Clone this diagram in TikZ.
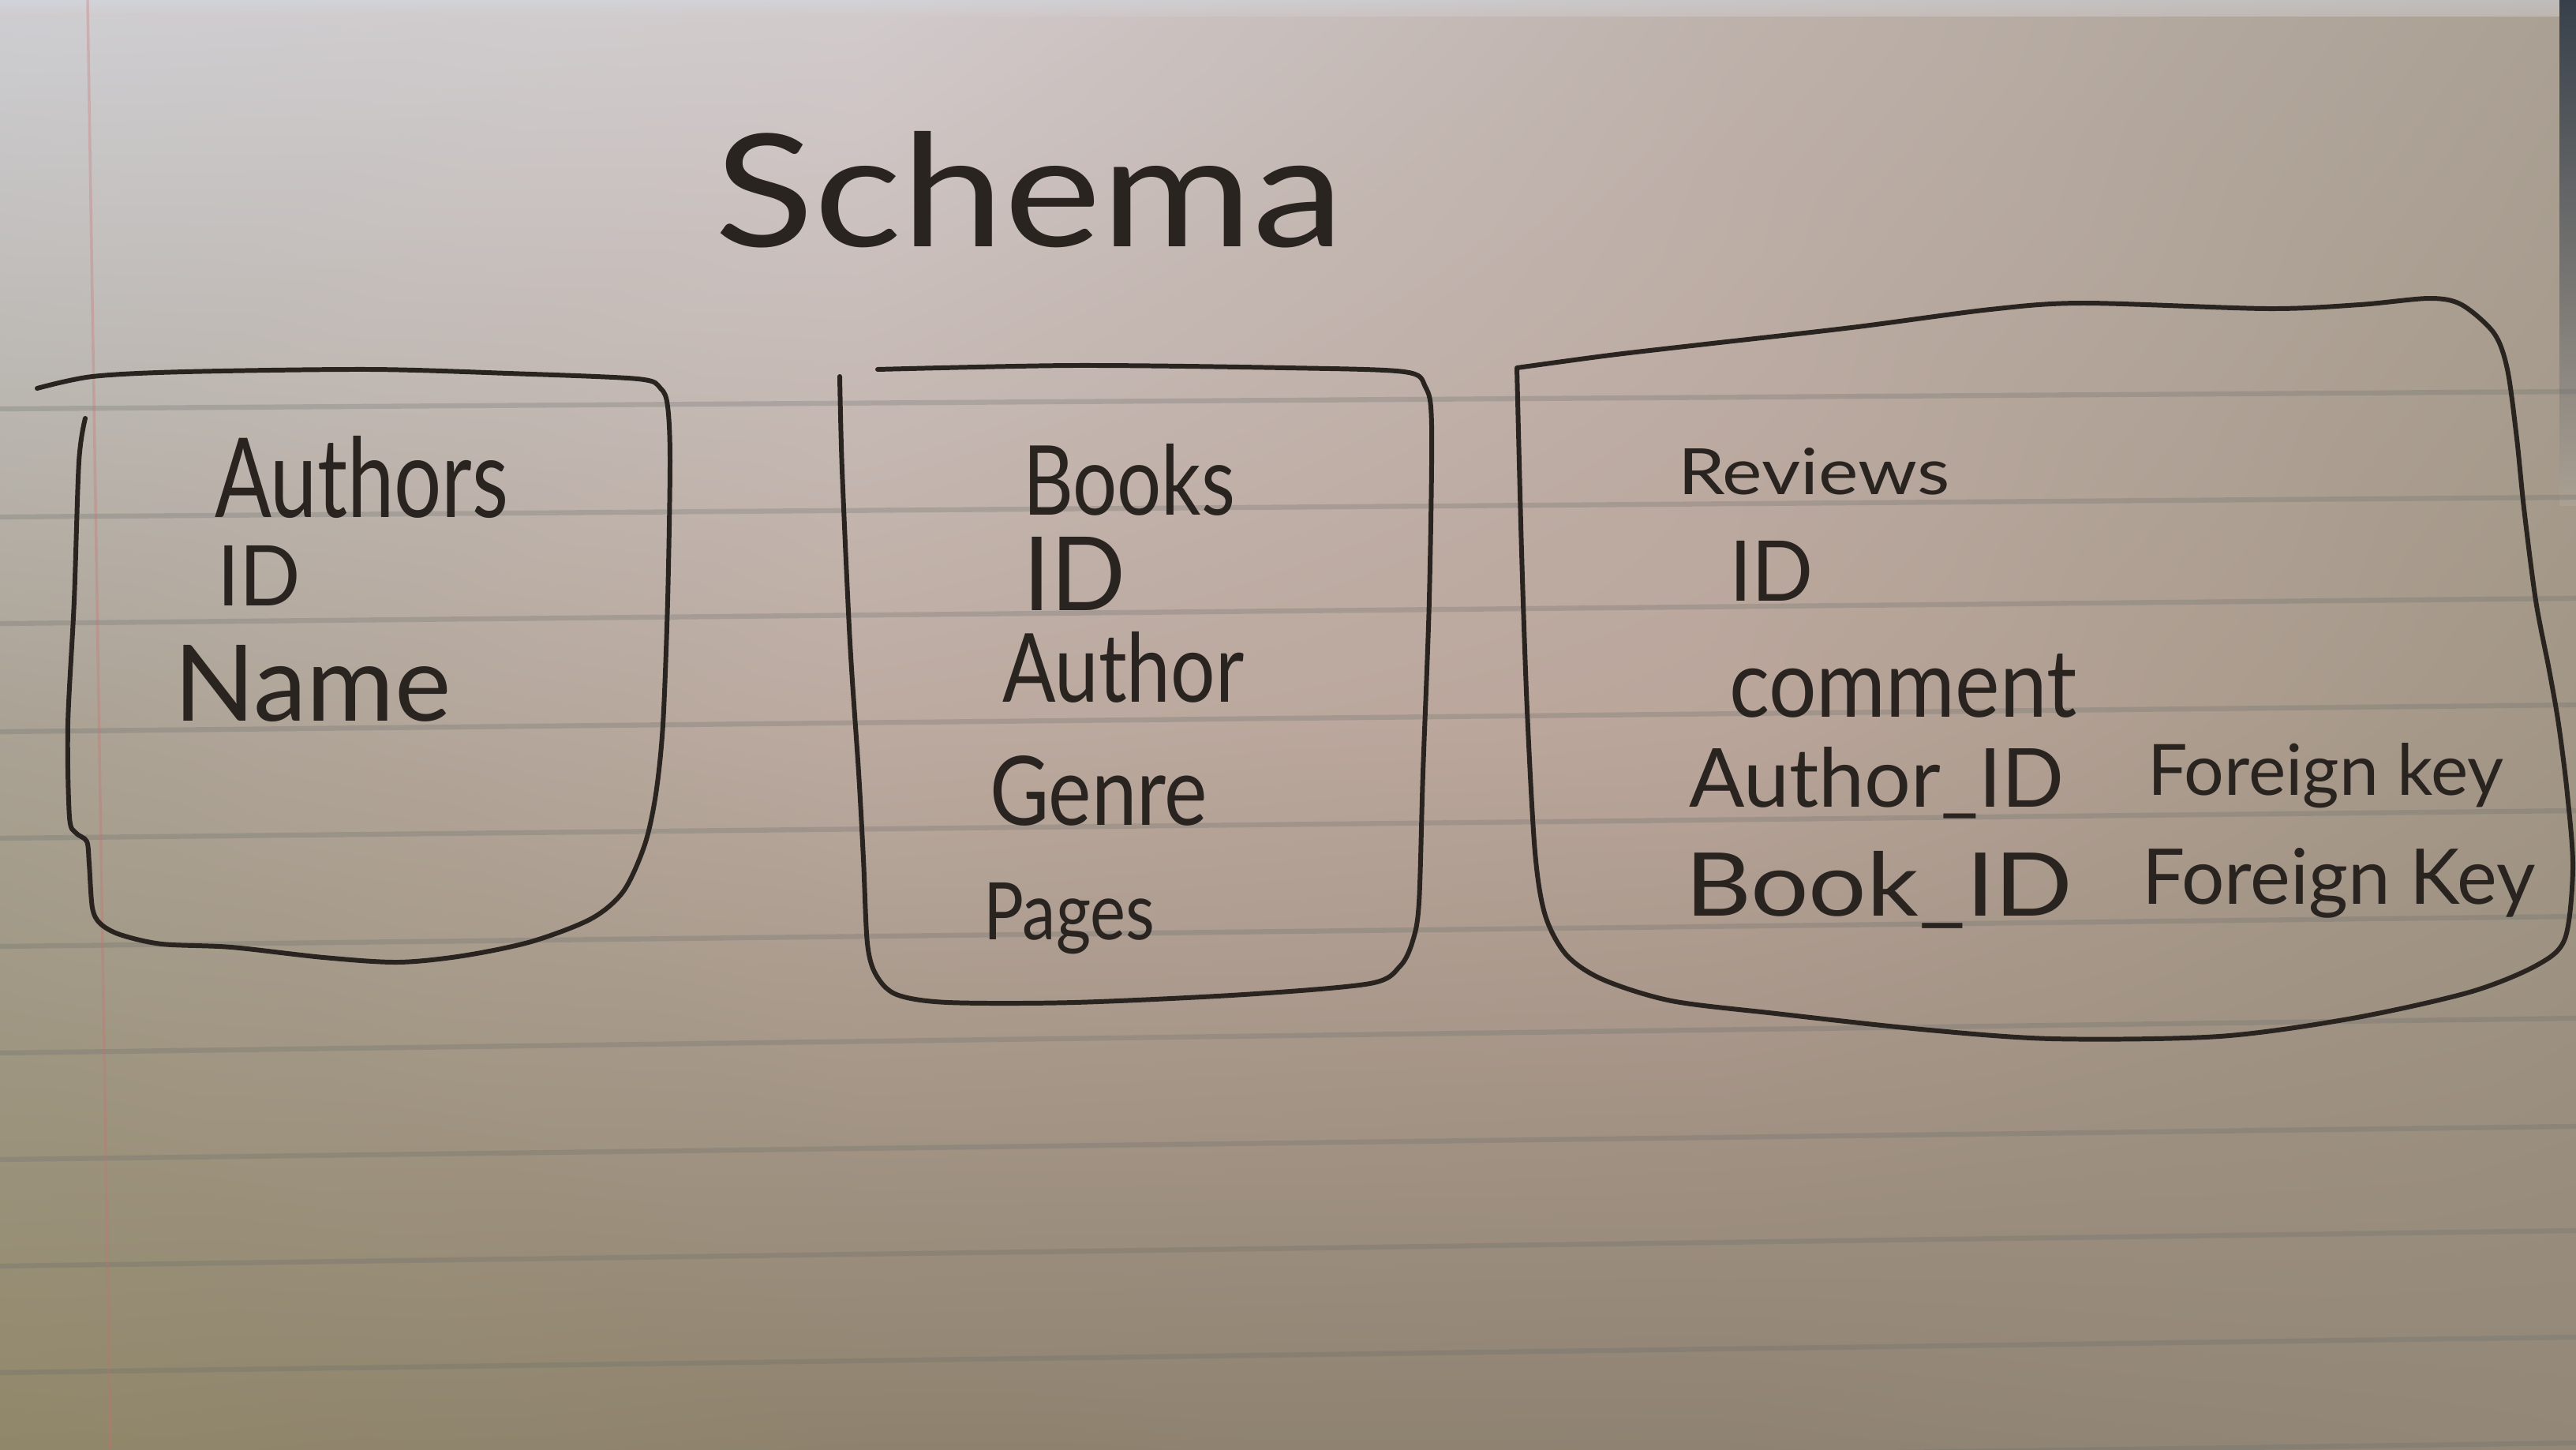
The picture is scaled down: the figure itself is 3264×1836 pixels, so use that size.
\documentclass[tikz,border=0pt]{standalone}
\usepackage{fontspec}
\usepackage{graphicx}
\usetikzlibrary{shadings}
\setmainfont{Lato}
% paper tones
\definecolor{pA}{RGB}{206,206,210}
\definecolor{pB}{RGB}{210,203,204}
\definecolor{pC}{RGB}{190,178,172}
\definecolor{pD}{RGB}{170,160,147}
\definecolor{pE}{RGB}{170,162,148}
\definecolor{pF}{RGB}{188,170,160}
\definecolor{pG}{RGB}{186,165,154}
\definecolor{pH}{RGB}{162,150,134}
\definecolor{pI}{RGB}{144,135,106}
\definecolor{pJ}{RGB}{142,130,110}
\definecolor{pK}{RGB}{142,130,114}
\definecolor{pL}{RGB}{147,136,120}
\definecolor{rule}{RGB}{100,106,104}
\definecolor{margin}{RGB}{205,110,110}
\definecolor{ink}{RGB}{42,36,33}
\definecolor{edgedark}{RGB}{55,64,74}
\definecolor{skyband}{RGB}{210,218,226}
% hand lettering box of a given width and height (cm)
\newcommand{\handword}[3]{\resizebox{#1cm}{#2cm}{#3}}
\begin{document}
\begin{tikzpicture}[x=0.01cm,y=-0.01cm,
  inkline/.style={draw=ink, line width=1.7pt, line cap=round, line join=round},
  ruled/.style={draw=rule, line width=1.8pt, opacity=0.26},
  hw/.style={anchor=base west, inner sep=0pt, outer sep=0pt, text=ink}]
\useasboundingbox (0,0) rectangle (3264,1836);

% paper: piecewise bilinear tint
\shade[upper left=pA, upper right=pB, lower left=pE, lower right=pF] (0,0) rectangle (1090,920);
\shade[upper left=pB, upper right=pC, lower left=pF, lower right=pG] (1088,0) rectangle (2178,920);
\shade[upper left=pC, upper right=pD, lower left=pG, lower right=pH] (2176,0) rectangle (3264,920);
\shade[upper left=pE, upper right=pF, lower left=pI, lower right=pJ] (0,918) rectangle (1090,1836);
\shade[upper left=pF, upper right=pG, lower left=pJ, lower right=pK] (1088,918) rectangle (2178,1836);
\shade[upper left=pG, upper right=pH, lower left=pK, lower right=pL] (2176,918) rectangle (3264,1836);

% light band at the top edge and dark strip at the right edge
\shade[top color=skyband, bottom color=pB, opacity=0.5] (0,0) rectangle (3264,20);
\shade[top color=edgedark, bottom color=pD] (3243,0) rectangle (3264,640);

% ruled lines and margin
\foreach \a/\b in {518/496, 655/630, 790/758, 927/893, 1062/1027, 1199/1161,
                   1334/1290, 1469/1427, 1604/1559, 1739/1694, 1874/1828}
  \draw[ruled] (0,\a) -- (3264,\b);
\draw[margin, line width=1pt, opacity=0.3] (111,0) -- (140,1836);

% title
\node[hw] (title) at (905,312) {\handword{7.97}{1.46}{Schema}};

% Authors table
\draw[inkline] plot[smooth, tension=0.5] coordinates {
  (108,530) (100,585) (94,761) (86,918) (88,1035) (96,1055) (110,1066)
  (113,1094) (117,1150) (127,1170) (152,1184) (205,1196) (293,1200)
  (410,1213) (504,1219) (586,1211) (673,1193) (749,1164) (790,1129)
  (817,1070) (831,1006) (840,918) (846,761) (849,585) (846,515)
  (837,492) (808,480) (644,473) (468,468) (234,471) (117,477) (47,492)};
\node[hw] (authors)  at (272,655) {\handword{3.72}{1.03}{Authors}};
\node[hw] (authorid) at (275,767) {\handword{1.06}{0.76}{ID}};
\node[hw] (aname)    at (220,913) {\handword{3.51}{0.96}{Name}};

% Books table
\draw[inkline] plot[smooth, tension=0.5] coordinates {
  (1064,477) (1067,595) (1077,814) (1088,979) (1094,1088) (1099,1195)
  (1110,1235) (1136,1260) (1201,1270) (1361,1270) (1576,1260)
  (1736,1246) (1774,1224) (1790,1192) (1798,1143) (1803,979)
  (1811,759) (1814,540) (1806,490) (1779,471) (1629,466) (1361,463) (1112,468)};
\node[hw] (books)   at (1296,652)  {\handword{2.69}{0.90}{Books}};
\node[hw] (bookid)  at (1296,773)  {\handword{1.30}{0.93}{ID}};
\node[hw] (bauthor) at (1270,889)  {\handword{3.06}{0.89}{Author}};
\node[hw] (bgenre)  at (1254,1045) {\handword{2.76}{0.88}{Genre}};
\node[hw] (bpages)  at (1246,1190) {\handword{2.17}{0.72}{Pages}};

% Reviews table
\draw[inkline] plot[smooth, tension=0.5] coordinates {
  (1922,466) (2040,450) (2161,436) (2346,415) (2522,392) (2639,384)
  (2873,391) (2990,386) (3078,378) (3119,386) (3160,422) (3177,468)
  (3189,556) (3198,644) (3213,761) (3230,849) (3242,918) (3253,1006)
  (3260,1100) (3250,1189) (3214,1223) (3129,1257) (2981,1290)
  (2812,1313) (2600,1316) (2434,1304) (2250,1284) (2118,1268)
  (2031,1241) (1985,1210) (1958,1160) (1945,1080) (1935,900)
  (1928,700) (1922,466)};
\node[hw] (reviews)  at (2126,626)  {\handword{3.44}{0.59}{Reviews}};
\node[hw] (reviewid) at (2191,761)  {\handword{1.07}{0.76}{ID}};
\node[hw] (rcomment) at (2191,908)  {\handword{4.40}{0.80}{comment}};
\node[hw] (rauthor)  at (2140,1022) {\handword{4.75}{0.76}{Author\_ID}};
\node[hw] (fkauthor) at (2721,1007) {\handword{4.51}{0.66}{Foreign key}};
\node[hw] (rbook)    at (2135,1160) {\handword{4.91}{0.82}{Book\_ID}};
\node[hw] (fkbook)   at (2714,1145) {\handword{4.98}{0.71}{Foreign Key}};
\end{tikzpicture}
\end{document}
